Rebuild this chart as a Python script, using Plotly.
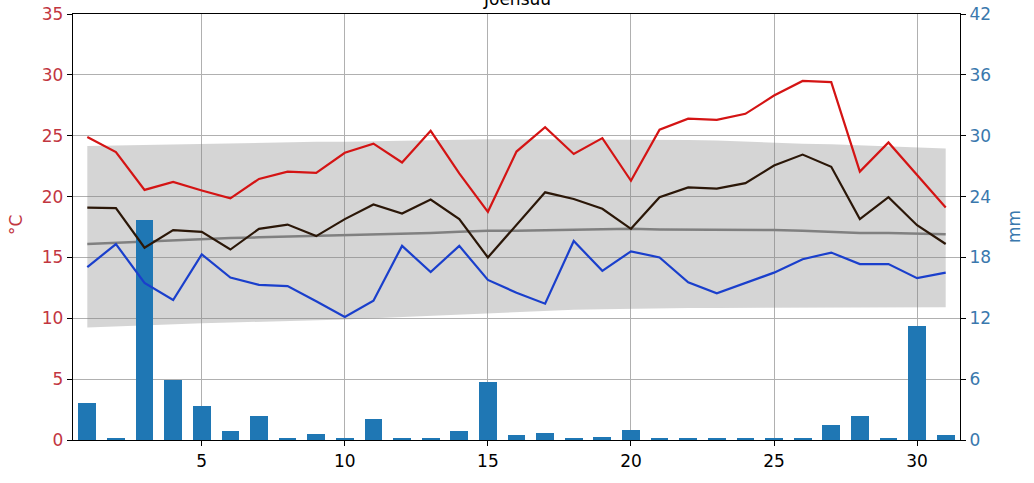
import plotly.graph_objects as go

days = list(range(1, 32))

t_max = [24.9, 23.65, 20.55, 21.2, 20.5, 19.85, 21.45, 22.05, 21.95, 23.6,
         24.35, 22.8, 25.4, 21.9, 18.75, 23.7, 25.7, 23.5, 24.8, 21.3,
         25.5, 26.4, 26.3, 26.8, 28.3, 29.5, 29.4, 22.05, 24.45, 21.8, 19.1]

t_mean = [19.1, 19.05, 15.8, 17.25, 17.1, 15.65, 17.35, 17.7, 16.75, 18.15,
          19.35, 18.6, 19.75, 18.15, 15.0, 17.7, 20.35, 19.8, 19.0, 17.35,
          19.95, 20.75, 20.65, 21.1, 22.55, 23.45, 22.45, 18.15, 19.95, 17.65, 16.1]

t_min = [14.2, 16.1, 12.9, 11.5, 15.25, 13.35, 12.75, 12.65, 11.4, 10.1,
         11.45, 15.95, 13.8, 15.95, 13.15, 12.1, 11.2, 16.35, 13.9, 15.5,
         15.0, 12.95, 12.05, 12.9, 13.75, 14.85, 15.4, 14.45, 14.45, 13.3, 13.75]

normal_mean = [16.1, 16.2, 16.3, 16.45, 16.55, 16.6, 16.65, 16.7, 16.8, 16.85,
               16.9, 16.95, 17.0, 17.1, 17.2, 17.2, 17.25, 17.25, 17.3, 17.35,
               17.3, 17.3, 17.3, 17.3, 17.25, 17.2, 17.1, 17.0, 17.0, 16.95, 16.9]

band_upper = [24.15, 24.2, 24.2, 24.25, 24.3, 24.35, 24.4, 24.45, 24.5, 24.5,
              24.55, 24.6, 24.6, 24.65, 24.7, 24.7, 24.7, 24.7, 24.7, 24.7,
              24.65, 24.65, 24.6, 24.5, 24.4, 24.35, 24.3, 24.2, 24.1, 24.0, 23.95]

band_lower = [9.25, 9.35, 9.45, 9.5, 9.6, 9.65, 9.7, 9.8, 9.85, 9.9,
              10.0, 10.1, 10.2, 10.3, 10.4, 10.55, 10.65, 10.7, 10.75, 10.8,
              10.8, 10.85, 10.85, 10.85, 10.9, 10.9, 10.9, 10.9, 10.9, 10.9, 10.9]

precip = [3.6, 0.2, 21.7, 5.9, 3.4, 0.9, 2.4, 0.2, 0.6, 0.2,
          2.1, 0.2, 0.2, 0.9, 5.7, 0.5, 0.65, 0.2, 0.3, 0.95,
          0.2, 0.2, 0.2, 0.2, 0.2, 0.2, 1.5, 2.4, 0.2, 11.25, 0.5]

temp_ticks = [0, 5, 10, 15, 20, 25, 30, 35]
mm_ticks = [0, 6, 12, 18, 24, 30, 36, 42]
x_ticks = [5, 10, 15, 20, 25, 30]

FONT = "DejaVu Sans"
RED_TXT = "#c2363f"
BLUE_TXT = "#3a78ad"

fig = go.Figure()

# layer 1 (base axis y, temperature): normal band and normal mean
fig.add_trace(go.Scatter(x=days, y=band_lower, mode="lines", line=dict(width=0, color="rgba(0,0,0,0)"),
                         yaxis="y", showlegend=False, hoverinfo="skip"))
fig.add_trace(go.Scatter(x=days, y=band_upper, mode="lines", line=dict(width=0, color="rgba(0,0,0,0)"),
                         fill="tonexty", fillcolor="rgba(128,128,128,0.33)",
                         yaxis="y", showlegend=False, hoverinfo="skip"))
fig.add_trace(go.Scatter(x=days, y=normal_mean, mode="lines", line=dict(width=2.5, color="#808080"),
                         yaxis="y", showlegend=False))

# layer 2 (y2, mm): precipitation bars
fig.add_trace(go.Bar(x=days, y=precip, width=0.62, marker=dict(color="#1f77b4", line=dict(width=0)),
                     yaxis="y2", showlegend=False))

# layer 3 (y3, temperature): daily lines
fig.add_trace(go.Scatter(x=days, y=t_max, mode="lines", line=dict(width=2.2, color="#d41414"),
                         yaxis="y3", showlegend=False))
fig.add_trace(go.Scatter(x=days, y=t_mean, mode="lines", line=dict(width=2.2, color="#2b1708"),
                         yaxis="y3", showlegend=False))
fig.add_trace(go.Scatter(x=days, y=t_min, mode="lines", line=dict(width=2.2, color="#1a3fcc"),
                         yaxis="y3", showlegend=False))

fig.update_layout(
    width=1034, height=483,
    margin=dict(l=73, r=74, t=14, b=43, autoexpand=False),
    paper_bgcolor="white", plot_bgcolor="white",
    font=dict(family=FONT, size=17, color="black"),
    bargap=0,
    xaxis=dict(range=[0.5, 31.5], tickvals=x_ticks, ticks="outside", ticklen=5, tickwidth=1.3,
               tickcolor="black", showline=True, linecolor="black", linewidth=1.3, mirror=True,
               showgrid=True, gridcolor="#b0b0b0", gridwidth=1.3, zeroline=False, automargin=False,
               tickfont=dict(family=FONT, size=17, color="black")),
    yaxis=dict(range=[0, 35], tickvals=temp_ticks, side="left", ticks="outside",
               ticklen=5, tickwidth=1.3, tickcolor="black", showline=True, linecolor="black",
               linewidth=1.3, showgrid=True, gridcolor="#b0b0b0", gridwidth=1.3,
               zeroline=False, automargin=False,
               tickfont=dict(family=FONT, size=17, color=RED_TXT)),
    yaxis2=dict(range=[0, 42], tickvals=mm_ticks, side="right", overlaying="y", ticks="outside",
                ticklen=5, tickwidth=1.3, tickcolor="black", showline=True, linecolor="black",
                linewidth=1.3, showgrid=False, zeroline=False, automargin=False,
                tickfont=dict(family=FONT, size=17, color=BLUE_TXT)),
    yaxis3=dict(range=[0, 35], overlaying="y", visible=False, showgrid=False, zeroline=False,
                automargin=False),
    annotations=[
        dict(text="Joensuu", xref="paper", yref="paper", x=0.5, y=1.035, xanchor="center",
             yanchor="middle", showarrow=False, font=dict(family=FONT, size=17, color="black")),
        dict(text="°C", xref="paper", yref="paper", x=-0.064, y=0.505, xanchor="center",
             yanchor="middle", textangle=-90, showarrow=False,
             font=dict(family=FONT, size=17, color=RED_TXT)),
        dict(text="mm", xref="paper", yref="paper", x=1.061, y=0.50, xanchor="center",
             yanchor="middle", textangle=-90, showarrow=False,
             font=dict(family=FONT, size=17, color=BLUE_TXT)),
    ],
)

fig.write_html("out.html", config={"displayModeBar": False},
               post_script="document.body.style.margin='0';")
